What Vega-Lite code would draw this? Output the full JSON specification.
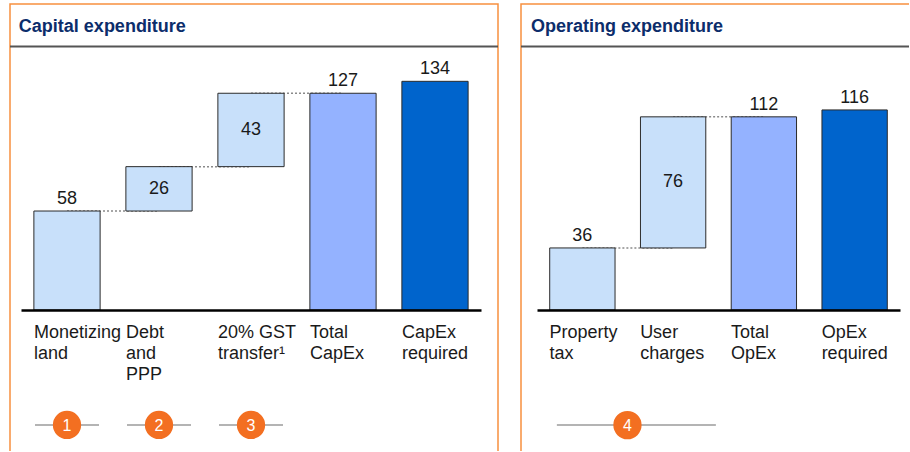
{
  "$schema": "https://vega.github.io/schema/vega-lite/v6.json",
  "padding": {"left": 8, "top": 3, "right": 0, "bottom": 0},
  "background": "white",
  "spacing": 19,
  "config": {"font": "Liberation Sans"},
  "resolve": {"scale": {"x": "independent", "y": "independent", "color": "independent"}},
  "datasets": {
    "capex": [
      {"cat": "Monetizing|land", "start": 0, "end": 58, "value": 58, "kind": "step", "pos": "above"},
      {"cat": "Debt|and|PPP", "start": 58, "end": 84, "value": 26, "kind": "step", "pos": "inside"},
      {"cat": "20% GST|transfer¹", "start": 84, "end": 127, "value": 43, "kind": "step", "pos": "inside"},
      {"cat": "Total|CapEx", "start": 0, "end": 127, "value": 127, "kind": "total", "pos": "above"},
      {"cat": "CapEx|required", "start": 0, "end": 134, "value": 134, "kind": "required", "pos": "above"}
    ],
    "capexLinks": [
      {"from": "Monetizing|land", "to": "Debt|and|PPP", "level": 58},
      {"from": "Debt|and|PPP", "to": "20% GST|transfer¹", "level": 84},
      {"from": "20% GST|transfer¹", "to": "Total|CapEx", "level": 127}
    ],
    "capexMarkers": [
      {"cat": "Monetizing|land", "n": "1"},
      {"cat": "Debt|and|PPP", "n": "2"},
      {"cat": "20% GST|transfer¹", "n": "3"}
    ],
    "opex": [
      {"cat": "Property|tax", "start": 0, "end": 36, "value": 36, "kind": "step", "pos": "above"},
      {"cat": "User|charges", "start": 36, "end": 112, "value": 76, "kind": "step", "pos": "inside"},
      {"cat": "Total|OpEx", "start": 0, "end": 112, "value": 112, "kind": "total", "pos": "above"},
      {"cat": "OpEx|required", "start": 0, "end": 116, "value": 116, "kind": "required", "pos": "above"}
    ],
    "opexLinks": [
      {"from": "Property|tax", "to": "User|charges", "level": 36},
      {"from": "User|charges", "to": "Total|OpEx", "level": 112}
    ],
    "opexMarkers": [
      {"cat": "Property|tax", "n": "4"}
    ]
  },
  "hconcat": [
    {
      "width": 488,
      "height": 447,
      "view": {"stroke": "#f7903f", "strokeWidth": 1.5, "strokeDash": [935, 488, 1000]},
      "data": {"name": "capex"},
      "layer": [
        {
          "data": {"values": [{"s": 1}]},
          "mark": {"type": "rule", "color": "#555555", "strokeWidth": 2},
          "encoding": {"y": {"datum": 154.4, "type": "quantitative", "scale": {"domain": [-82.6, 179.3], "nice": false, "zero": false}, "axis": null}}
        },
        {
          "data": {"values": [{"t": "Capital expenditure"}]},
          "mark": {"type": "text", "align": "left", "baseline": "alphabetic", "fontSize": 18, "fontWeight": "bold", "color": "#0c2d6b"},
          "encoding": {
            "x": {"datum": "Monetizing|land", "type": "nominal", "bandPosition": -0.227, "scale": {"domain": ["Monetizing|land", "Debt|and|PPP", "20% GST|transfer¹", "Total|CapEx", "CapEx|required"], "range": [11, 471], "paddingInner": 0.28, "paddingOuter": 0.14}},
            "y": {"datum": 162.9, "type": "quantitative", "scale": {"domain": [-82.6, 179.3], "nice": false, "zero": false}, "axis": null},
            "text": {"field": "t"}
          }
        },
        {
          "data": {"name": "capexMarkers"},
          "mark": {"type": "tick", "orient": "horizontal", "size": 64, "thickness": 1.5, "color": "#707070"},
          "encoding": {
            "x": {"field": "cat", "type": "nominal", "scale": {"domain": ["Monetizing|land", "Debt|and|PPP", "20% GST|transfer¹", "Total|CapEx", "CapEx|required"], "range": [11, 471], "paddingInner": 0.28, "paddingOuter": 0.14}},
            "y": {"datum": -67.3, "type": "quantitative", "scale": {"domain": [-82.6, 179.3], "nice": false, "zero": false}, "axis": null}
          }
        },
        {
          "data": {"name": "capexMarkers"},
          "mark": {"type": "point", "filled": true, "shape": "circle", "size": 800, "color": "#f36f21", "opacity": 1},
          "encoding": {
            "x": {"field": "cat", "type": "nominal", "scale": {"domain": ["Monetizing|land", "Debt|and|PPP", "20% GST|transfer¹", "Total|CapEx", "CapEx|required"], "range": [11, 471], "paddingInner": 0.28, "paddingOuter": 0.14}},
            "y": {"datum": -67.3, "type": "quantitative", "scale": {"domain": [-82.6, 179.3], "nice": false, "zero": false}, "axis": null}
          }
        },
        {
          "data": {"name": "capexMarkers"},
          "mark": {"type": "text", "color": "white", "fontSize": 16, "baseline": "middle", "align": "center", "dy": 1},
          "encoding": {
            "x": {"field": "cat", "type": "nominal", "scale": {"domain": ["Monetizing|land", "Debt|and|PPP", "20% GST|transfer¹", "Total|CapEx", "CapEx|required"], "range": [11, 471], "paddingInner": 0.28, "paddingOuter": 0.14}},
            "y": {"datum": -67.3, "type": "quantitative", "scale": {"domain": [-82.6, 179.3], "nice": false, "zero": false}, "axis": null},
            "text": {"field": "n"}
          }
        },
        {
          "data": {"name": "capexLinks"},
          "mark": {"type": "rule", "color": "#8a8a8a", "strokeDash": [2, 2], "strokeWidth": 1.5},
          "encoding": {
            "x": {"field": "from", "type": "nominal", "scale": {"domain": ["Monetizing|land", "Debt|and|PPP", "20% GST|transfer¹", "Total|CapEx", "CapEx|required"], "range": [11, 471], "paddingInner": 0.28, "paddingOuter": 0.14}},
            "x2": {"field": "to"},
            "y": {"field": "level", "type": "quantitative", "scale": {"domain": [-82.6, 179.3], "nice": false, "zero": false}, "axis": null}
          }
        },
        {
          "mark": {"type": "bar", "stroke": "#2b2b2b", "strokeWidth": 1},
          "encoding": {
            "x": {"field": "cat", "type": "nominal", "scale": {"domain": ["Monetizing|land", "Debt|and|PPP", "20% GST|transfer¹", "Total|CapEx", "CapEx|required"], "range": [11, 471], "paddingInner": 0.28, "paddingOuter": 0.14},
              "axis": {"title": null, "orient": "bottom", "offset": -141, "ticks": false, "domain": true, "domainColor": "#000000", "domainWidth": 2.5, "labelAlign": "left", "labelBaseline": "top", "labelPadding": 13, "labelOffset": -33, "labelFontSize": 18, "labelFont": "Liberation Sans", "labelColor": "#1a1a1a", "labelLineHeight": 21, "labelExpr": "split(datum.value, '|')", "labelFlush": false, "labelOverlap": false, "labelBound": false, "labelAngle": 0, "grid": false, "zindex": 1}},
            "y": {"field": "start", "type": "quantitative", "scale": {"domain": [-82.6, 179.3], "nice": false, "zero": false}, "axis": null},
            "y2": {"field": "end"},
            "color": {"field": "kind", "type": "nominal", "scale": {"domain": ["step", "total", "required"], "range": ["#c8e0fa", "#94b2ff", "#0064cc"]}, "legend": null}
          }
        },
        {
          "transform": [{"filter": "datum.pos === 'above'"}],
          "mark": {"type": "text", "dy": -7, "baseline": "alphabetic", "align": "center", "fontSize": 18, "color": "#1a1a1a"},
          "encoding": {
            "x": {"field": "cat", "type": "nominal", "scale": {"domain": ["Monetizing|land", "Debt|and|PPP", "20% GST|transfer¹", "Total|CapEx", "CapEx|required"], "range": [11, 471], "paddingInner": 0.28, "paddingOuter": 0.14}},
            "y": {"field": "end", "type": "quantitative", "scale": {"domain": [-82.6, 179.3], "nice": false, "zero": false}, "axis": null},
            "text": {"field": "value"}
          }
        },
        {
          "transform": [{"filter": "datum.pos === 'inside'"}, {"calculate": "(datum.start + datum.end) / 2", "as": "mid"}],
          "mark": {"type": "text", "baseline": "middle", "align": "center", "fontSize": 18, "color": "#1a1a1a"},
          "encoding": {
            "x": {"field": "cat", "type": "nominal", "scale": {"domain": ["Monetizing|land", "Debt|and|PPP", "20% GST|transfer¹", "Total|CapEx", "CapEx|required"], "range": [11, 471], "paddingInner": 0.28, "paddingOuter": 0.14}},
            "y": {"field": "mid", "type": "quantitative", "scale": {"domain": [-82.6, 179.3], "nice": false, "zero": false}, "axis": null},
            "text": {"field": "value"}
          }
        }
      ]
    },
    {
      "width": 388,
      "height": 447,
      "view": {"stroke": "#f7903f", "strokeWidth": 1.5, "strokeDash": [388, 835, 1000]},
      "data": {"name": "opex"},
      "layer": [
        {
          "data": {"values": [{"s": 1}]},
          "mark": {"type": "rule", "color": "#555555", "strokeWidth": 2},
          "encoding": {"y": {"datum": 152.8, "type": "quantitative", "scale": {"domain": [-81.7, 177.4], "nice": false, "zero": false}, "axis": null}}
        },
        {
          "data": {"values": [{"t": "Operating expenditure"}]},
          "mark": {"type": "text", "align": "left", "baseline": "alphabetic", "fontSize": 18, "fontWeight": "bold", "color": "#0c2d6b"},
          "encoding": {
            "x": {"datum": "Property|tax", "type": "nominal", "bandPosition": -0.285, "scale": {"domain": ["Property|tax", "User|charges", "Total|OpEx", "OpEx|required"], "range": [16, 379], "paddingInner": 0.28, "paddingOuter": 0.14}},
            "y": {"datum": 161.2, "type": "quantitative", "scale": {"domain": [-81.7, 177.4], "nice": false, "zero": false}, "axis": null},
            "text": {"field": "t"}
          }
        },
        {
          "data": {"name": "opexMarkers"},
          "mark": {"type": "tick", "orient": "horizontal", "size": 159, "thickness": 1.5, "color": "#707070", "xOffset": 54},
          "encoding": {
            "x": {"field": "cat", "type": "nominal", "scale": {"domain": ["Property|tax", "User|charges", "Total|OpEx", "OpEx|required"], "range": [16, 379], "paddingInner": 0.28, "paddingOuter": 0.14}},
            "y": {"datum": -66.7, "type": "quantitative", "scale": {"domain": [-81.7, 177.4], "nice": false, "zero": false}, "axis": null}
          }
        },
        {
          "data": {"name": "opexMarkers"},
          "mark": {"type": "point", "filled": true, "shape": "circle", "size": 800, "color": "#f36f21", "opacity": 1},
          "encoding": {
            "x": {"field": "cat", "type": "nominal", "bandPosition": 1.19, "scale": {"domain": ["Property|tax", "User|charges", "Total|OpEx", "OpEx|required"], "range": [16, 379], "paddingInner": 0.28, "paddingOuter": 0.14}},
            "y": {"datum": -66.7, "type": "quantitative", "scale": {"domain": [-81.7, 177.4], "nice": false, "zero": false}, "axis": null}
          }
        },
        {
          "data": {"name": "opexMarkers"},
          "mark": {"type": "text", "color": "white", "fontSize": 16, "baseline": "middle", "align": "center", "dy": 1},
          "encoding": {
            "x": {"field": "cat", "type": "nominal", "bandPosition": 1.19, "scale": {"domain": ["Property|tax", "User|charges", "Total|OpEx", "OpEx|required"], "range": [16, 379], "paddingInner": 0.28, "paddingOuter": 0.14}},
            "y": {"datum": -66.7, "type": "quantitative", "scale": {"domain": [-81.7, 177.4], "nice": false, "zero": false}, "axis": null},
            "text": {"field": "n"}
          }
        },
        {
          "data": {"name": "opexLinks"},
          "mark": {"type": "rule", "color": "#8a8a8a", "strokeDash": [2, 2], "strokeWidth": 1.5},
          "encoding": {
            "x": {"field": "from", "type": "nominal", "scale": {"domain": ["Property|tax", "User|charges", "Total|OpEx", "OpEx|required"], "range": [16, 379], "paddingInner": 0.28, "paddingOuter": 0.14}},
            "x2": {"field": "to"},
            "y": {"field": "level", "type": "quantitative", "scale": {"domain": [-81.7, 177.4], "nice": false, "zero": false}, "axis": null}
          }
        },
        {
          "mark": {"type": "bar", "stroke": "#2b2b2b", "strokeWidth": 1},
          "encoding": {
            "x": {"field": "cat", "type": "nominal", "scale": {"domain": ["Property|tax", "User|charges", "Total|OpEx", "OpEx|required"], "range": [16, 379], "paddingInner": 0.28, "paddingOuter": 0.14},
              "axis": {"title": null, "orient": "bottom", "offset": -141, "ticks": false, "domain": true, "domainColor": "#000000", "domainWidth": 2.5, "labelAlign": "left", "labelBaseline": "top", "labelPadding": 13, "labelOffset": -33, "labelFontSize": 18, "labelFont": "Liberation Sans", "labelColor": "#1a1a1a", "labelLineHeight": 21, "labelExpr": "split(datum.value, '|')", "labelFlush": false, "labelOverlap": false, "labelBound": false, "labelAngle": 0, "grid": false, "zindex": 1}},
            "y": {"field": "start", "type": "quantitative", "scale": {"domain": [-81.7, 177.4], "nice": false, "zero": false}, "axis": null},
            "y2": {"field": "end"},
            "color": {"field": "kind", "type": "nominal", "scale": {"domain": ["step", "total", "required"], "range": ["#c8e0fa", "#94b2ff", "#0064cc"]}, "legend": null}
          }
        },
        {
          "transform": [{"filter": "datum.pos === 'above'"}],
          "mark": {"type": "text", "dy": -7, "baseline": "alphabetic", "align": "center", "fontSize": 18, "color": "#1a1a1a"},
          "encoding": {
            "x": {"field": "cat", "type": "nominal", "scale": {"domain": ["Property|tax", "User|charges", "Total|OpEx", "OpEx|required"], "range": [16, 379], "paddingInner": 0.28, "paddingOuter": 0.14}},
            "y": {"field": "end", "type": "quantitative", "scale": {"domain": [-81.7, 177.4], "nice": false, "zero": false}, "axis": null},
            "text": {"field": "value"}
          }
        },
        {
          "transform": [{"filter": "datum.pos === 'inside'"}, {"calculate": "(datum.start + datum.end) / 2", "as": "mid"}],
          "mark": {"type": "text", "baseline": "middle", "align": "center", "fontSize": 18, "color": "#1a1a1a"},
          "encoding": {
            "x": {"field": "cat", "type": "nominal", "scale": {"domain": ["Property|tax", "User|charges", "Total|OpEx", "OpEx|required"], "range": [16, 379], "paddingInner": 0.28, "paddingOuter": 0.14}},
            "y": {"field": "mid", "type": "quantitative", "scale": {"domain": [-81.7, 177.4], "nice": false, "zero": false}, "axis": null},
            "text": {"field": "value"}
          }
        }
      ]
    }
  ]
}
